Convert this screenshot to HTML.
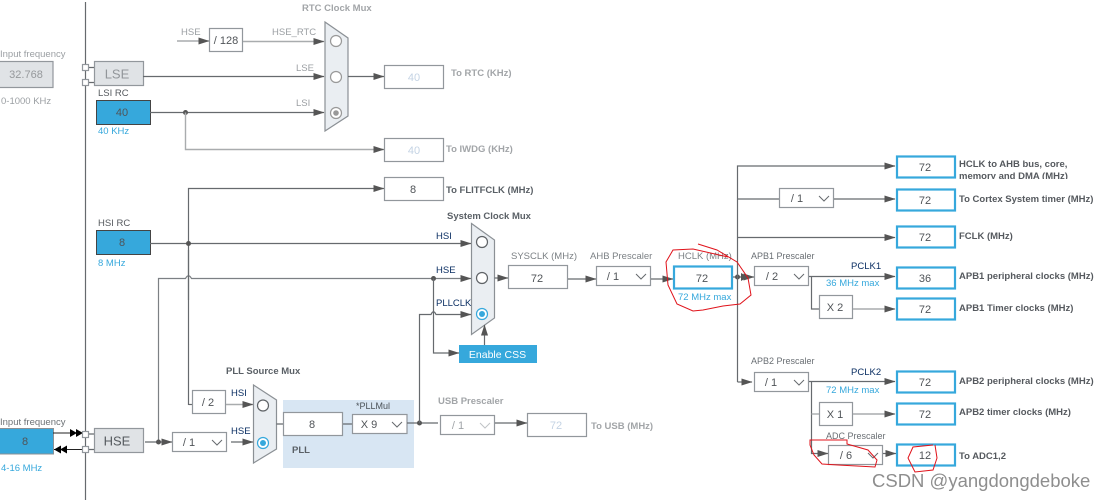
<!DOCTYPE html>
<html><head><meta charset="utf-8"><style>
html,body{margin:0;padding:0;background:#fff;width:1106px;height:500px;overflow:hidden}
svg{display:block}
text{font-family:"Liberation Sans",Arial,sans-serif;font-size:9.5px;fill:#5a6066}
.g{fill:#9b9fa3}.b{fill:#36a8dc}.d{fill:#0b2f63}
.lb{font-weight:bold;fill:#5a6066;font-size:9.5px}
.lg{font-weight:bold;fill:#a2a5a8;font-size:9.5px}
.t{fill:#55595e;font-weight:bold;font-size:9.5px}
.v{font-size:11px;text-anchor:middle;fill:#505458}
.l{stroke:#666a6e;stroke-width:1.2;fill:none}
.lt{stroke:#a9acae;stroke-width:1.4;fill:none}
.bx{fill:#fff;stroke:#92979c;stroke-width:1.2}
.ou{fill:#fff;stroke:#36a8dc;stroke-width:2.2}
.src{fill:#36a8dc;stroke:#444;stroke-width:1}
.gy{fill:#e0e3e6;stroke:#92979c;stroke-width:1.2}
.mx{fill:#eaeef2;stroke:#8b9095;stroke-width:1.2}
.c{fill:#fff;stroke:#5f6367;stroke-width:1.2}
.cb{fill:#fff;stroke:#36a8dc;stroke-width:1.2}
.r{fill:none;stroke:#e0131b;stroke-width:1}
.ch{fill:none;stroke:#666a6e;stroke-width:1}
</style></head><body>
<svg width="1106" height="500" viewBox="0 0 1106 500" xmlns="http://www.w3.org/2000/svg">
<defs>
<marker id="a" markerWidth="11" markerHeight="8" refX="10.5" refY="4" orient="auto" markerUnits="userSpaceOnUse"><path d="M0 .5L11 4L0 7.5Z" fill="#555"/></marker>
</defs>
<path class="l" d="M85.5 2V500"/>

<!-- blue area -->
<rect x="283" y="400" width="131" height="68" fill="#d8e6f3"/>

<!-- RTC section -->
<text x="302" y="11" class="lg">RTC Clock Mux</text>
<text x="0" y="57" class="g">Input frequency</text>
<rect class="gy" x="-2" y="61.5" width="55" height="26"/>
<text x="26" y="78" class="v" style="fill:#96999c">32.768</text>
<text x="1" y="104" class="g">0-1000 KHz</text>
<path class="l" d="M88 67.5H94M88 82.5H94"/>
<rect class="bx" x="82.5" y="64.5" width="6" height="6"/><rect class="bx" x="82.5" y="79.5" width="6" height="6"/>
<rect class="gy" x="94.5" y="61.5" width="49" height="24"/>
<text x="117" y="78.500" style="font-size:13px;text-anchor:middle;fill:#92969a">LSE</text>
<text x="98" y="96" class="t" style="font-weight:normal">LSI RC</text>
<rect class="src" x="96.500" y="100.500" width="54" height="24"/>
<text x="122" y="116" class="v">40</text>
<text x="98" y="134" class="b">40 KHz</text>

<text x="181" y="35" class="g">HSE</text>
<path class="lt" d="M177 41H209" marker-end="url(#a)"/>
<rect class="bx" x="209.500" y="28.500" width="33" height="23"/>
<text x="226" y="44" class="v">/ 128</text>
<path class="lt" d="M243 41.500H324" marker-end="url(#a)"/>
<text x="272" y="35" class="g">HSE_RTC</text>
<path class="l" d="M143 76.500H324" marker-end="url(#a)"/>
<text x="296" y="71" class="g">LSE</text>
<path class="l" d="M150 112.500H324" marker-end="url(#a)"/>
<text x="296" y="106" class="g">LSI</text>
<circle cx="185.500" cy="112.500" r="2.500" fill="#555"/>
<path class="lt" d="M185.500 112.500V149.500H384" marker-end="url(#a)"/>
<path class="mx" d="M325 22L348 38V116L325 131Z"/>
<circle class="c" cx="336" cy="41" r="5.500" style="stroke:#999"/>
<circle class="c" cx="336" cy="77" r="5.500" style="stroke:#999"/>
<circle class="c" cx="336" cy="113" r="5.500" style="stroke:#999"/>
<circle cx="336" cy="113" r="2.800" fill="#999"/>
<path class="l" d="M348 76.500H384" marker-end="url(#a)"/>
<rect class="bx" x="384.500" y="65.500" width="59" height="23"/>
<text x="414" y="81" class="v" style="fill:#c4d3e4">40</text>
<text x="451" y="76" class="lg">To RTC (KHz)</text>
<rect class="bx" x="384.500" y="138.500" width="59" height="23"/>
<text x="414" y="154" class="v" style="fill:#c4d3e4">40</text>
<text x="446" y="152" class="lg">To IWDG (KHz)</text>

<!-- FLITF -->
<path class="l" d="M188.500 405V188.500H384" marker-end="url(#a)"/>
<rect class="bx" x="384.500" y="177.500" width="59" height="23"/>
<text x="413" y="193" class="v">8</text>
<text x="446" y="193" class="lb">To FLITFCLK (MHz)</text>

<!-- HSI -->
<text x="98" y="226" class="t" style="font-weight:normal">HSI RC</text>
<rect class="src" x="96.500" y="230.500" width="54" height="24"/>
<text x="122" y="246" class="v">8</text>
<text x="98" y="266" class="b">8 MHz</text>
<path class="l" d="M150 243.500H471" marker-end="url(#a)"/>
<circle cx="188.500" cy="243.500" r="2.500" fill="#555"/>

<!-- HSE line -->
<path class="l" d="M158.500 442V278.500H185.500Q188.500 273 191.500 278.500H471" marker-end="url(#a)" style="stroke:#7c8084"/>
<path class="l" d="M188.500 250V300"/>

<!-- HSE input -->
<text x="0" y="425" class="g" style="fill:#6d7276">Input frequency</text>
<rect class="src" x="-2" y="428.500" width="55.500" height="25.500" style="stroke:#8b9095"/>
<text x="25" y="445" class="v">8</text>
<text x="1" y="471" class="b">4-16 MHz</text>
<path d="M53 433H83" stroke="#222" stroke-width="1"/>
<path d="M54 449.500H83" stroke="#222" stroke-width="1"/>
<path d="M70 429L77 433L70 437ZM76 429L83 433L76 437Z" fill="#000"/>
<path d="M54 449.500L61 445.500V453.500ZM60 449.500L67 445.500V453.500Z" fill="#000"/>
<path class="l" d="M88 434H94M88 449.500H94"/>
<rect class="bx" x="82.500" y="431.500" width="6" height="6"/><rect class="bx" x="82.500" y="446.500" width="6" height="6"/>
<rect class="gy" x="94.500" y="428.500" width="49" height="24"/>
<text x="117" y="445.500" style="font-size:13px;text-anchor:middle;fill:#555a5e">HSE</text>
<path class="l" d="M145 442H172" marker-end="url(#a)"/>
<circle cx="158.500" cy="442" r="2.500" fill="#555"/>
<rect class="bx" x="172.500" y="432.500" width="54" height="19"/>
<text x="189" y="446" class="v">/ 1</text>
<path class="ch" d="M212 440L217 445L222 440"/>

<!-- /2 -->
<path class="l" d="M188.500 404.500H192"/>
<rect class="bx" x="192.500" y="390.500" width="33" height="23"/>
<text x="208" y="406" class="v">/ 2</text>
<path class="lt" d="M226 404.500H253" marker-end="url(#a)"/>
<path class="l" d="M231 442H253" marker-end="url(#a)"/>
<text x="231" y="396" class="d">HSI</text>
<text x="231" y="434" class="d">HSE</text>
<text x="226" y="374" class="lb">PLL Source Mux</text>
<path class="mx" d="M253.500 385L276.500 400V449L253.500 463Z"/>
<circle class="c" cx="263" cy="405.500" r="5.500"/>
<circle class="cb" cx="263" cy="443" r="5.500"/>
<circle cx="263" cy="443" r="3" fill="#36a8dc"/>

<!-- PLL -->
<path class="l" d="M276.500 424H283M342 424H352"/>
<rect class="bx" x="283.500" y="412.500" width="59" height="23"/>
<text x="312" y="428" class="v">8</text>
<text x="356" y="409" style="font-size:9px;fill:#4a5157">*PLLMul</text>
<rect class="bx" x="352.500" y="414.500" width="54.500" height="19"/>
<text x="369" y="428" class="v">X 9</text>
<path class="ch" d="M392 422L397 427L402 422"/>
<text x="292" y="453" class="lb">PLL</text>

<!-- PLLCLK -->
<path class="l" d="M407 423H438"/>
<circle cx="419.500" cy="423" r="2.500" fill="#555"/>
<path class="l" d="M419.500 423V314.500H431Q433.500 309 436 314.500H471" marker-end="url(#a)"/>

<!-- USB -->
<text x="438" y="404" class="lg">USB Prescaler</text>
<rect class="bx" x="440.500" y="415.500" width="54" height="19"/>
<text x="458" y="429" class="v" style="fill:#a0a4a8">/ 1</text>
<path class="ch" d="M480 423L485 428L490 423" style="stroke:#c0c3c6"/>
<path class="l" d="M495 423H527" marker-end="url(#a)"/>
<rect class="bx" x="527.500" y="413.500" width="59" height="23"/>
<text x="556" y="429" class="v" style="fill:#c4d3e4">72</text>
<text x="591" y="429" class="lg">To USB (MHz)</text>

<!-- System mux -->
<text x="447" y="219" class="lb">System Clock Mux</text>
<text x="436" y="239" class="d">HSI</text>
<text x="436" y="273" class="d">HSE</text>
<text x="436" y="306" class="d">PLLCLK</text>
<circle cx="433.500" cy="278.500" r="2.500" fill="#555"/>
<path class="l" d="M433.500 278.500V353H459" marker-end="url(#a)"/>
<path class="mx" d="M471.500 223.500L494.500 240V318L471.500 334.500Z"/>
<circle class="c" cx="482" cy="242" r="5.500"/>
<circle class="c" cx="482" cy="278" r="5.500"/>
<circle class="cb" cx="482" cy="314" r="5.500"/>
<circle cx="482" cy="314" r="3" fill="#36a8dc"/>
<rect x="459" y="345" width="78" height="18" fill="#36a8dc"/>
<text x="497.500" y="358" style="font-size:10.500px;text-anchor:middle;fill:#fff">Enable CSS</text>
<path class="l" d="M484.500 345V325" marker-end="url(#a)"/>

<!-- SYSCLK -->
<path class="l" d="M494.500 278H508" marker-end="url(#a)"/>
<text x="511" y="259" class="g" style="fill:#7c8185">SYSCLK (MHz)</text>
<rect class="bx" x="508.500" y="265.500" width="59" height="23"/>
<text x="537" y="282" class="v">72</text>
<path class="l" d="M568 279H596" marker-end="url(#a)"/>
<text x="590" y="259" class="g" style="fill:#7c8185">AHB Prescaler</text>
<rect class="bx" x="596.500" y="266.500" width="54" height="19"/>
<text x="613" y="280" class="v">/ 1</text>
<path class="ch" d="M636 274L641 279L646 274"/>
<path class="l" d="M651 279H673" marker-end="url(#a)"/>
<text x="678" y="259" class="g" style="fill:#7c8185">HCLK (MHz)</text>
<rect class="ou" x="674" y="266.500" width="58" height="22"/>
<text x="702" y="282" class="v">72</text>
<text x="678" y="300" class="b">72 MHz max</text>

<!-- bus -->
<path class="l" d="M733 277H754" marker-end="url(#a)"/>
<circle cx="737.500" cy="277" r="2.500" fill="#555"/>
<path d="M741 273L748 277L741 281Z" fill="#555"/>
<path class="l" d="M737.500 382V166H895" marker-end="url(#a)"/>
<rect class="ou" x="897" y="156.500" width="58" height="21"/>
<text x="925" y="171" class="v">72</text>
<text x="959" y="167" class="t">HCLK to AHB bus, core,</text>
<svg x="959" y="170" width="120" height="9" viewBox="0 0 120 9" overflow="hidden"><text x="0" y="9" class="t">memory and DMA (MHz)</text></svg>

<path class="l" d="M737.500 199H779"/>
<rect class="bx" x="779.500" y="188.500" width="54" height="19"/>
<text x="797" y="202" class="v">/ 1</text>
<path class="ch" d="M819 196L824 201L829 196"/>
<path class="l" d="M834 199H895" marker-end="url(#a)"/>
<rect class="ou" x="897" y="189.500" width="58" height="21"/>
<text x="925" y="204" class="v">72</text>
<text x="959" y="202" class="t">To Cortex System timer (MHz)</text>

<path class="l" d="M737.500 237.500H895" marker-end="url(#a)"/>
<rect class="ou" x="897" y="226.500" width="58" height="21"/>
<text x="925" y="241" class="v">72</text>
<text x="959" y="239" class="t">FCLK (MHz)</text>

<text x="751" y="259" style="font-size:9px;fill:#6a6f74">APB1 Prescaler</text>
<rect class="bx" x="754.500" y="266.500" width="54" height="19"/>
<text x="772" y="280" class="v">/ 2</text>
<path class="ch" d="M794 274L799 279L804 274"/>
<path class="l" d="M809 276.500H895" marker-end="url(#a)"/>
<text x="851" y="269" class="d">PCLK1</text>
<text x="826" y="286" class="b">36 MHz max</text>
<rect class="ou" x="897" y="267.500" width="58" height="21"/>
<text x="925" y="282" class="v">36</text>
<text x="959" y="279" class="t">APB1 peripheral clocks (MHz)</text>
<path class="l" d="M811.500 277V309H819"/>
<rect class="bx" x="819.500" y="295.500" width="33" height="23"/>
<text x="835" y="311" class="v">X 2</text>
<path class="lt" d="M853 309H895" marker-end="url(#a)"/>
<rect class="ou" x="897" y="298.500" width="58" height="21"/>
<text x="925" y="313" class="v">72</text>
<text x="959" y="311" class="t">APB1 Timer clocks (MHz)</text>

<path class="l" d="M737.500 382H752" marker-end="url(#a)"/>
<text x="751" y="364" style="font-size:9px;fill:#6a6f74">APB2 Prescaler</text>
<rect class="bx" x="754.500" y="372.500" width="54" height="19"/>
<text x="771" y="386" class="v">/ 1</text>
<path class="ch" d="M794 380L799 385L804 380"/>
<path class="l" d="M809 381.500H895" marker-end="url(#a)"/>
<text x="851" y="375" class="d">PCLK2</text>
<text x="826" y="393" class="b">72 MHz max</text>
<rect class="ou" x="897" y="371.500" width="58" height="21"/>
<text x="925" y="386" class="v">72</text>
<text x="959" y="384" class="t">APB2 peripheral clocks (MHz)</text>
<path class="l" d="M811.500 382V453.500H828" marker-end="url(#a)"/>
<path class="lt" d="M811.500 414H819"/>
<rect class="bx" x="819.500" y="402.500" width="33" height="23"/>
<text x="835" y="418" class="v">X 1</text>
<path class="lt" d="M853 414H895" marker-end="url(#a)"/>
<rect class="ou" x="897" y="403.500" width="58" height="21"/>
<text x="925" y="418" class="v">72</text>
<text x="959" y="415" class="t">APB2 timer clocks (MHz)</text>
<text x="826" y="439" style="font-size:9px;fill:#6a6f74">ADC Prescaler</text>
<rect class="bx" x="828.500" y="445.500" width="54" height="19"/>
<text x="846" y="459" class="v">/ 6</text>
<path class="ch" d="M868 453L873 458L878 453"/>
<path class="l" d="M883 453.500H896" marker-end="url(#a)"/>
<rect class="ou" x="897" y="444.500" width="58" height="21"/>
<text x="925" y="459" class="v">12</text>
<text x="959" y="459" class="t">To ADC1,2</text>

<!-- scribbles -->
<path class="r" d="M698 244L717 250L737 262L748 278L751 295L740 304L723 306L703 310L693 311L677 304L668 285L666 262L673 250L693 249L728 257"/>
<path class="r" d="M810 440L847 440L847 444L868 450L877 460L875 467L838 465L822 464L814 455L810 445Z"/>
<path class="r" d="M933 445L913 447L908 458L915 472L933 470L937 458L935 445"/>

<text x="872" y="487" style="font-size:18.500px;fill:#8e8e8e">CSDN @yangdongdeboke</text>
</svg>
</body></html>
